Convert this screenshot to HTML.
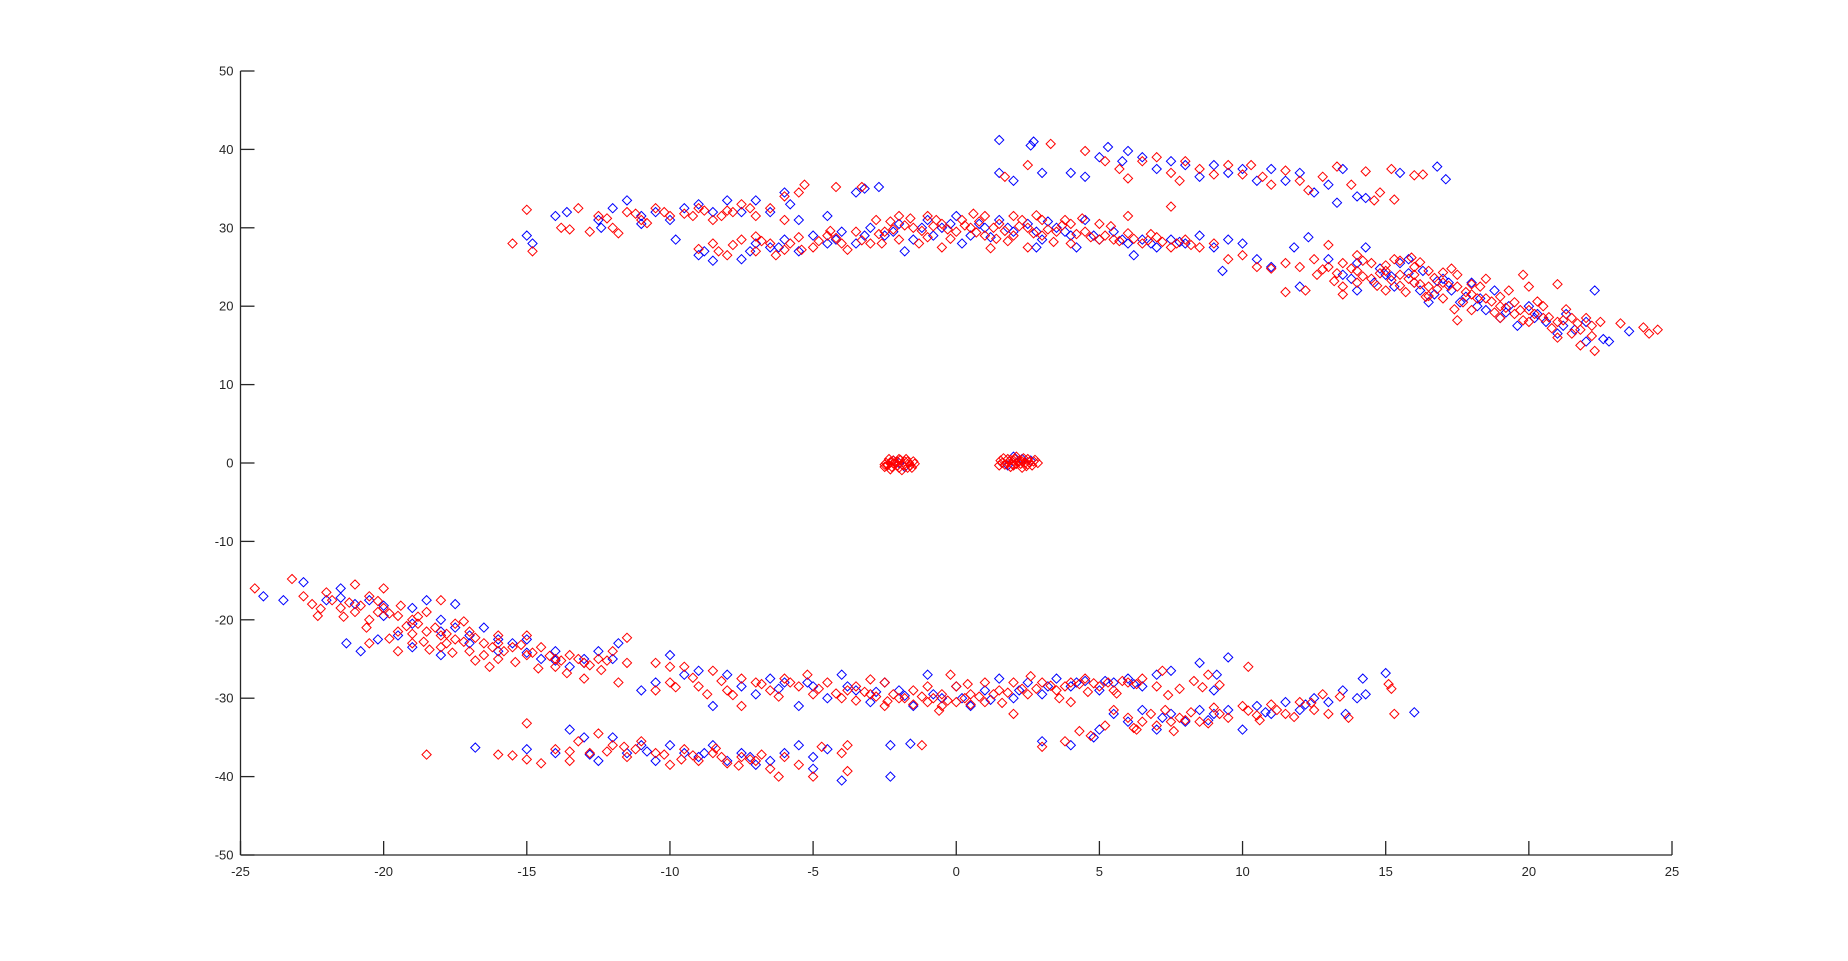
<!DOCTYPE html>
<html><head><meta charset="utf-8"><style>
html,body{margin:0;padding:0;background:#fff;}
svg{display:block;font-family:"Liberation Sans","DejaVu Sans",sans-serif;}
</style></head><body>
<svg id="chart" width="1848" height="961" viewBox="0 0 1848 961" xmlns="http://www.w3.org/2000/svg">
<rect width="1848" height="961" fill="#fff"/>
<g id="marks"></g>
<g id="axes"></g>
</svg>
<script>
const xTicks=[-25,-20,-15,-10,-5,0,5,10,15,20,25];
const yTicks=[-50,-40,-30,-20,-10,0,10,20,30,40,50];
const blueData="-14,31.5 -13.6,32 -12.5,31 -12,32.5 -11.5,33.5 -11,31.5 -10.5,32 -10,31 -9.5,32.5 -9,33 -8.5,32 -8,33.5 -7.5,32 -7,33.5 -6.5,32 -6,34.5 -5.8,33 -5.5,31 -15,29 -14.8,28 -12.4,30 -11,30.5 -9.8,28.5 -3.5,34.5 -3.2,35 -2.7,35.2 -4.5,31.5 "+
"-9,26.5 -8.8,27 -8.5,25.8 -7.5,26 -7,28 -6.5,27.5 -6,28.5 -5.5,27 -5,29 -4.5,28 -4,29.5 -3.5,28 -3,30 -2.5,29 -2,30.5 -1.5,28.5 -1,31 -0.5,30 0,31.5 0.5,29 1,30 1.5,31 2,29.5 2.5,30.5 3,28.5 3.5,30 4,29 4.5,31 5,28.5 5.5,29.5 6,28 6.5,28.5 7,27.5 7.5,28.5 8,28 8.5,29 9,27.5 9.5,28.5 -1.8,27 0.2,28 2.8,27.5 4.2,27.5 6.2,26.5 "+
"9.3,24.5 10,28 10.5,26 11,25 11.8,27.5 12.3,28.8 12,22.5 13,26 13.5,24 14,25.5 14.3,27.5 14.6,23 15,24 15.3,22.5 15.5,25.5 16,23 16.3,24.5 16.7,21.5 17,23.5 17.3,22 17.6,20.5 18,23 18.3,21 18.5,19.5 18.8,22 19,18.5 19.3,20 19.6,17.5 20,20 20.3,19 20.6,18 21,16.5 21.3,19 21.6,17 22,15.5 22.3,22 22.6,15.8 22.8,15.5 23.5,16.8 16.5,20.5 14,22 15.8,26 "+
"1.5,41.2 2.6,40.5 2.7,41 1.5,37 2,36 3,37 4,37 4.5,36.5 5,39 5.3,40.3 5.8,38.5 6,39.8 6.5,39 7,37.5 7.5,38.5 8,38 8.5,36.5 9,38 9.5,37 10,37.5 10.5,36 11,37.5 11.5,36 12,37 12.5,34.5 13,35.5 13.5,37.5 14,34 14.3,33.8 15.5,37 16.8,37.8 17.1,36.2 13.3,33.2 "+
"-2,0 -1.8,-0.5 -2.2,0.3 2,0.8 2.3,0.5 1.8,-0.3 2.6,0.3 "+
"-24.2,-17 -23.5,-17.5 -22.8,-15.2 -22,-17.5 -21.5,-16 -21,-18 -21.3,-23 -20.5,-17.5 -20,-19.5 -19.5,-22 -19,-18.5 -18.5,-17.5 -18,-20 -17.5,-18 -17,-22 -16.5,-21 -16,-24 -15.5,-23 -15,-22.5 -14.5,-25 -14,-24 -13.5,-26 -13,-25 -12.5,-24 -12,-25 -11.8,-23 -20.2,-22.5 -20.8,-24 -19,-23.5 -18,-24.5 "+
"-11,-29 -10.5,-28 -10,-24.5 -9.5,-27 -9,-26.5 -8.5,-31 -8,-27 -7.5,-28.5 -7,-29.5 -6.5,-27.5 -6,-28 -5.5,-31 -5,-28.5 -4.5,-30 -4,-27 -3.5,-29 -3,-30.5 -2.5,-28 -2,-29 -1.5,-31 -1,-27 -0.5,-30 0,-28.5 0.5,-31 1,-29 1.5,-27.5 2,-30 2.5,-28 3,-29.5 3.5,-27.5 4,-28.5 4.5,-27.8 5,-29 5.5,-28 6,-27.5 6.5,-28.5 7,-27 7.5,-26.5 8.5,-25.5 9.5,-24.8 9.1,-27 9,-29 "+
"3,-35.5 4,-36 4.8,-35 5,-34 5.5,-32 6,-33 6.5,-31.5 7,-34 7.5,-32 8,-33 8.5,-31.5 9,-32 9.5,-31.5 10,-34 10.5,-31 11,-32 11.5,-30.5 12,-31.5 12.5,-30 13,-30.5 13.5,-29 14,-30 14.3,-29.5 14.2,-27.5 15,-26.8 16,-31.8 13.6,-32 "+
"-16.8,-36.3 -15,-36.5 -14,-37 -13.5,-34 -13,-35 -12.5,-38 -12,-35 -11.5,-37 -11,-36 -10.5,-38 -10,-36 -9.5,-37 -9,-37.5 -8.5,-36 -8,-38 -7.5,-37 -7,-38.5 -6.5,-38 -6,-37 -5.5,-36 -5,-37.5 -4.5,-36.5 -4,-40.5 -2.3,-40 -2.3,-36 -1.6,-35.8 -5,-39 "+
"-4.2,28.5 -3.2,29 -2.2,29.5 -1.2,30 -0.2,30.5 0.8,30.5 1.8,30 2.8,29.5 3.8,29.5 4.8,29 5.8,28.5 6.8,28 7.8,28.2 -6.2,27.5 -7.2,27 -0.8,29 1.2,28.8 3.2,30.8 "+
"13.8,23.5 14.8,24.8 15.8,24.2 16.2,22 17.2,23 17.8,21.2 18.2,20 19.2,19.2 20.2,18.5 21.2,17.5 22,18 15.2,23.8 16.8,23.2 "+
"-21.5,-17.2 -20,-18.2 -19,-20.5 -18,-21.5 -17,-23 -16,-22.5 -15,-24.2 -14,-25.2 -13,-25.5 -17.5,-21 "+
"-3.8,-28.5 -2.8,-29.2 -1.8,-29.7 -0.8,-29.5 0.2,-30 1.2,-30.2 2.2,-29 3.2,-28.5 4.2,-28 5.2,-27.8 6.2,-28.2 -5.2,-28 -6.2,-28.8 "+
"7.2,-32.5 8.8,-32.8 10.8,-31.8 12.2,-30.8 -12.8,-37.2 -10.8,-36.8 -8.8,-37 -7.2,-37.5";
const redData="-15.5,28 -15,32.3 -14.8,27 -13.8,30 -13.2,32.5 -12.8,29.5 -12.5,31.5 -12,30 -11.5,32 -11,31 -10.5,32.5 -10,31.5 -9.5,31.8 -9,32.5 -8.5,31 -8,32.2 -7.5,33 -7,31.5 -6.5,32.5 -6,31 -6,34 -5.5,34.5 -5.3,35.5 -4.2,35.2 -3.3,35.2 -13.5,29.8 -11.8,29.3 "+
"-9,27.3 -8.5,28 -8,26.5 -7.5,28.5 -7,27 -6.5,28 -6,27.2 -5.5,28.8 -5,27.5 -4.5,29 -4,28 -3.5,29.5 -3,28 -2.8,31 -2.5,29.5 -2,28.5 -2,31.5 -1.5,30 -1,28.8 -1,31.5 -0.5,30.5 0,29.5 0.2,31 0.5,30 1,29 1,31.5 1.5,30.5 2,29 2,31.5 2.5,30 3,29 3,31 3.5,29.5 4,30.5 4,28 4.5,29.5 5,30.5 5,28.5 5.5,28.5 6,29.3 6.5,28 7,28.8 7.5,27.5 7.5,32.7 8,28.5 8.5,27.5 9,28 9.5,26 10,26.5 -0.5,27.5 2.5,27.5 -3.8,27.2 6,31.5 1.2,27.4 -6.3,26.5 "+
"10.5,25 11,24.8 11.5,25.5 12,25 12.2,22 12.5,26 13,25 13,27.8 13.5,25.5 13.5,22.5 14,24.5 14,26.5 14.5,23.5 14.5,25.5 15,24.5 15,22 15.5,24 15.5,25.8 16,23 16,25 16.5,22.5 16.5,24.5 17,23 17,21 17.5,22.5 17.5,24 18,21.5 18,19.5 18.5,21 18.5,23.5 19,20 19,18.5 19.5,20.5 19.5,19 20,19.5 20,18 20.5,18.5 20.5,20 21,18 21,16 21.5,18.5 21.5,16.5 21.8,15 22,18.5 22.3,14.3 22.5,18 23.2,17.8 24,17.3 24.5,17 24.2,16.5 21,22.8 19.8,24 17.5,18.2 13.5,21.5 11.5,21.8 20,22.5 "+
"3.3,40.7 4.5,39.8 5.2,38.5 5.7,37.5 6,36.3 6.5,38.5 7,39 7.5,37 7.8,36 8,38.5 8.5,37.5 9,36.8 9.5,38 10,36.8 10.3,38 10.7,36.5 11,35.5 11.5,37.3 12,36 12.3,34.8 12.8,36.5 13.3,37.8 13.8,35.5 14.3,37.2 14.8,34.5 15.2,37.5 15.3,33.6 14.6,33.5 16,36.7 16.3,36.8 2.5,38 1.7,36.5 "+
"-2.4,-0.3 -2.2,0.3 -2,-0.6 -1.8,0.2 -1.6,-0.3 -2.1,0 -1.9,-0.9 -2.5,-0.5 -1.5,0.2 -2.3,-0.8 -1.7,-0.6 -2,0.5 "+
"1.6,0 1.8,0.5 2,-0.3 2.2,0.3 2.4,0 2.1,0.8 1.9,-0.5 2.5,0.5 1.5,-0.3 2.3,-0.6 2.7,0.2 2,0.3 "+
"-24.5,-16 -23.2,-14.8 -22.8,-17 -22.5,-18 -22,-16.5 -21.5,-18.5 -21,-15.5 -21,-19 -20.5,-17 -20.5,-20 -20,-16 -20,-18.5 -19.5,-19.5 -19.5,-21.5 -19,-20 -19,-23 -18.5,-19 -18.5,-21.5 -18,-22 -18,-23.5 -17.5,-20.5 -17.5,-22.5 -17,-21.5 -17,-24 -16.5,-23 -16,-22 -16,-25 -15.5,-23.5 -15,-24.5 -15,-22 -14.5,-23.5 -14,-25 -14,-26 -13.5,-24.5 -13,-25.5 -13,-27.5 -12.5,-25 -12,-24 -11.5,-25.5 -11.8,-28 -11.5,-22.3 -10.5,-25.5 -10,-26 -20.5,-23 -19.5,-24 -22.3,-19.5 -18,-17.5 -16.3,-26 "+
"-10.5,-29 -10,-28 -9.5,-26 -9,-28.5 -8.5,-26.5 -8,-29 -7.5,-27.5 -7.5,-31 -7,-28 -6.5,-29 -6,-27.5 -5.5,-28.5 -5,-29.5 -4.5,-28 -4,-30 -3.5,-28.5 -3,-29.5 -2.5,-31 -2.5,-28 -2,-30 -1.5,-29 -1,-30.5 -1,-28.5 -0.5,-29.5 0,-30.5 0,-28.5 0.5,-29.5 1,-30.5 1,-28 1.5,-29 2,-28 2,-32 2.5,-29.5 3,-28 3.5,-29 4,-28 4,-30.5 4.5,-27.5 5,-28.5 5.5,-29 6,-28 6.5,-27.5 7,-28.5 7.2,-26.5 7.8,-28.8 8.3,-27.8 8.8,-27 9.2,-28.3 10.2,-26 -1.2,-36 -3.8,-36 -0.2,-27 -8.7,-29.5 "+
"3,-36.2 3.8,-35.5 4.3,-34.2 4.7,-34.8 5.2,-33.5 5.5,-31.5 6,-32.5 6.3,-34 6.8,-32 7,-33.5 7.3,-31.5 7.8,-32.5 8.2,-31.8 8.5,-33 9,-31.2 9.5,-32.5 10,-31 10.5,-32.2 11,-30.8 11.5,-32 12,-30.5 12.5,-31.5 12.8,-29.5 13,-32 13.4,-29.8 13.7,-32.5 15.2,-28.8 15.3,-32 15.1,-28.2 "+
"-18.5,-37.2 -16,-37.2 -15.5,-37.3 -15,-33.2 -15,-37.8 -14.5,-38.3 -14,-36.5 -13.5,-38 -13.2,-35.5 -12.8,-37 -12.5,-34.5 -12,-36 -11.5,-37.5 -11,-35.5 -10.5,-37 -10,-38.5 -9.5,-36.5 -9,-38 -8.5,-37 -8,-38.3 -7.5,-37.5 -7,-38 -6.5,-39 -6.2,-40 -6,-37.5 -5.5,-38.5 -5,-40 -4.7,-36.2 -3.8,-39.3 -4,-37 "+
"-4.8,28.3 -4.2,28.7 -3.3,28.4 -2.7,29.2 -2.2,29.8 -1.8,30.3 -1.2,29.6 -0.8,30.2 -0.3,29.8 0.3,30.3 0.7,29.4 1.3,30 1.7,29.6 2.2,30.2 2.7,29.3 3.2,29.8 3.7,30.3 4.2,29.2 4.7,28.8 5.2,29 5.7,28.3 6.2,28.6 6.7,28.4 7.2,28.2 7.7,28 8.2,27.8 -5.8,28 -6.8,28.3 -7.8,27.8 -8.3,27 -2.3,30.8 -0.7,31 0.8,30.8 2.3,31 3.8,31 1.8,28.3 -1.3,28 "+
"-11.2,31.8 -10.2,32 -9.2,31.5 -8.8,32.2 -8.2,31.5 -7.8,32 -7.2,32.5 -12.2,31.2 -10.8,30.6 "+
"12.8,24.7 13.3,24.2 13.8,24.8 14.2,23.8 14.8,24.2 15.2,23.3 15.8,23.5 16.2,22.8 16.8,22.2 17.2,22.6 17.8,21.8 18.2,21 18.7,20.6 19.2,19.8 19.7,19.5 20.2,19 20.7,18.6 21.2,18.2 21.7,17.8 22.2,17.5 14,23 15,25.2 16,24 17,24.3 18,22.8 19,21.2 16.5,21.3 15.5,22.6 "+
"-21.8,-17.5 -21.2,-17.8 -20.8,-18.2 -20.2,-19 -19.8,-19.2 -19.2,-20.8 -18.8,-20.5 -18.2,-21 -17.8,-21.8 -17.2,-22.8 -16.8,-22.3 -16.2,-23.5 -15.8,-24 -15.2,-23.2 -14.8,-24.2 -14.2,-24.6 -13.8,-25.2 -13.2,-25 -12.8,-25.8 -12.2,-25.2 -17.8,-23 -16.5,-24.5 -19,-21.8 -18.6,-22.8 "+
"-6.8,-28.2 -5.8,-28 -4.8,-28.8 -3.8,-29 -3.2,-29.2 -2.8,-29.8 -2.2,-29.5 -1.8,-30 -1.2,-29.8 -0.8,-30 -0.3,-30.3 0.3,-30 0.8,-29.8 1.3,-29.5 1.8,-29.3 2.3,-28.8 2.8,-28.8 3.3,-28.4 3.8,-28.5 4.3,-28.2 4.8,-28.1 5.3,-28 5.8,-27.8 6.3,-28.2 -1.5,-30.8 -0.5,-31 0.5,-30.8 -3.5,-30.3 -9.8,-28.6 -8.2,-27.8 "+
"7.5,-33 8,-32.8 9.2,-32 10.2,-31.6 11.2,-31.5 6.5,-33 "+
"-2.45,0 -2.35,0.5 -2.15,-0.2 -1.95,0.4 -1.85,-0.3 -1.65,0 -1.55,-0.6 -2.05,-0.3 -2.25,-0.5 -1.75,0.5 -2.5,-0.2 -1.45,-0.1 "+
"1.55,0.3 1.7,-0.2 1.85,0.2 2.05,0.5 2.25,-0.1 2.35,0.6 2.55,0.1 2.65,-0.3 1.95,-0.1 2.15,0.1 1.65,0.6 2.45,-0.4 2.75,0.4 2.85,0 "+
"-12.2,-36.8 -11.2,-36.5 -10.2,-37.2 -9.2,-37.3 -8.2,-37.5 -7.2,-37.8 -13.5,-36.8 "+
"14.2,25.8 14.7,22.6 15.3,26 15.7,21.8 16.2,25.6 16.7,23.6 17.3,24.8 17.7,20.5 18.3,22.5 18.8,19.2 19.3,22 19.8,18.2 20.3,20.6 20.8,17.2 21.3,19.6 21.8,17 22.2,16.2 16.4,21.2 17.4,19.6 13.2,23.2 12.6,24 15.9,26.2 "+
"-0.2,28.6 1.4,28.6 3.4,28.2 5.4,30.2 -2.6,28 -4.4,29.6 0.6,31.8 -1.6,31.2 2.8,31.6 4.4,31.2 -5.4,27.2 -7,28.9 6.8,29.2 "+
"-22.2,-18.6 -21.4,-19.6 -20.6,-21 -19.8,-22.4 -19.4,-18.2 -18.4,-23.8 -17.6,-24.2 -16.8,-25.2 -16,-23 -15.4,-25.4 -14.6,-26.2 -13.6,-26.8 -12.4,-26.4 -17.2,-20.2 -18.8,-19.6 -20.2,-17.6 "+
"-9.2,-27.4 -7.8,-29.6 -6.2,-29.8 -4.2,-29.4 -2.4,-30.4 -0.6,-31.6 1.6,-30.6 3.6,-30 5.6,-29.4 7.4,-29.6 8.6,-28.6 -5.2,-27 -3,-27.6 0.4,-28.2 2.6,-27.2 4.6,-29.2 "+
"6.2,-33.8 7.6,-34.2 8.8,-33.2 10.6,-32.8 11.8,-32.4 12.4,-30.6 "+
"-2.05,0.15 -1.9,-0.15 -2.2,-0.05 -1.7,0.2 -2.3,0.1 2.1,-0.1 2.3,0.2 1.9,0.4 2.5,-0.2 1.8,0 "+
"-11.6,-36.2 -9.6,-37.8 -8.4,-36.4 -7.6,-38.6 -6.8,-37.2";

const X0=240.5,X1=1672,Y0=855,Y1=71;
function sx(v){return X0+(v+25)/50*(X1-X0);}
function sy(v){return Y0-(v+50)/100*(Y0-Y1);}
const NS="http://www.w3.org/2000/svg";
const marks=document.getElementById('marks');
function parse(s){return s.trim().split(/\s+/).map(p=>p.split(',').map(Number));}
function drawSeries(data,color,name){
  const g=document.createElementNS(NS,'g');
  
  
  let d='';
  parse(data).forEach(([x,y])=>{
    const cx=sx(x),cy=sy(y),r=4.6;
    d+=`M${cx.toFixed(1)} ${(cy-r).toFixed(1)}L${(cx+r).toFixed(1)} ${cy.toFixed(1)}L${cx.toFixed(1)} ${(cy+r).toFixed(1)}L${(cx-r).toFixed(1)} ${cy.toFixed(1)}Z`;
  });
  const p=document.createElementNS(NS,'path');
  p.setAttribute('d',d);p.setAttribute('fill','none');p.setAttribute('stroke',color);p.setAttribute('stroke-width','1');
  
  
  g.appendChild(p);marks.appendChild(g);
}
drawSeries(blueData,'#0000ff','blue-series');
drawSeries(redData,'#ff0000','red-series');

const axes=document.getElementById('axes');
function el(tag,attrs,text){const e=document.createElementNS(NS,tag);for(const k in attrs)e.setAttribute(k,attrs[k]);if(text!==undefined)e.textContent=text;axes.appendChild(e);return e;}
const xl=el('path',{d:`M${X0} ${Y0}H${X1}`,stroke:'#262626','stroke-width':1.3,fill:'none'});


const yl=el('path',{d:`M${X0} ${Y0}V${Y1}`,stroke:'#262626','stroke-width':1.3,fill:'none'});


xTicks.forEach(t=>{
  const x=sx(t);
  const tk=el('path',{d:`M${x} ${Y0}V${Y0-14}`,stroke:'#262626','stroke-width':1.3});
  
  
  const lb=el('text',{x:x,y:Y0+21,'text-anchor':'middle','font-size':13,fill:'#262626'},String(t));
  
  
});
yTicks.forEach(t=>{
  const y=sy(t);
  const tk=el('path',{d:`M${X0} ${y}H${X0+14}`,stroke:'#262626','stroke-width':1.3});
  
  
  const lb=el('text',{x:X0-7,y:y+4.5,'text-anchor':'end','font-size':13,fill:'#262626'},String(t));
  
  
});
</script>
</body></html>
